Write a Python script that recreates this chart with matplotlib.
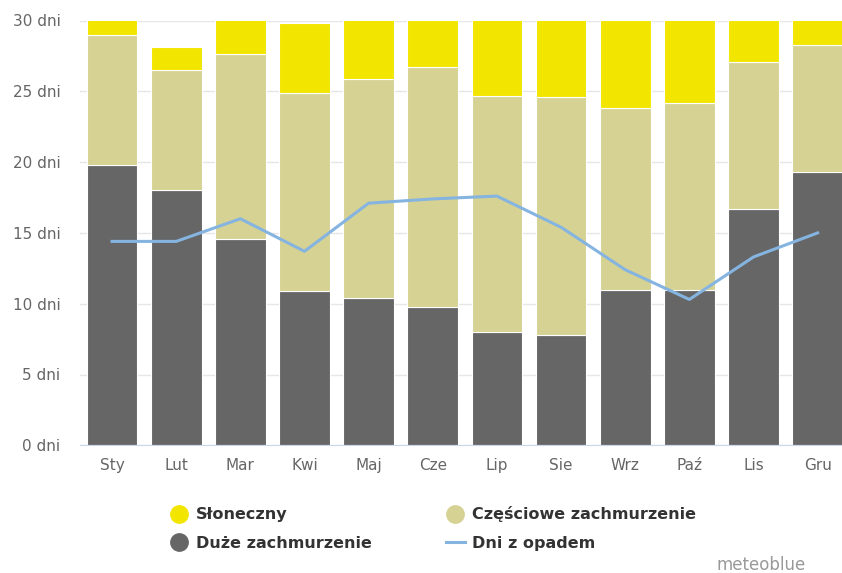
import matplotlib.pyplot as plt
from matplotlib.lines import Line2D
import numpy as np

months = ['Sty', 'Lut', 'Mar', 'Kwi', 'Maj', 'Cze', 'Lip', 'Sie', 'Wrz', 'Paź', 'Lis', 'Gru']
# days per category
overcast = [19.8, 18.0, 14.6, 10.9, 10.4, 9.8, 8.0, 7.8, 11.0, 11.0, 16.7, 19.3]
partly_top = [29.0, 26.5, 27.6, 24.9, 25.9, 26.7, 24.7, 24.6, 23.8, 24.2, 27.1, 28.3]
totals = [31, 28.1, 31, 29.8, 31, 30, 31, 31, 30, 31, 30, 31]
precip_days = [14.4, 14.4, 16.0, 13.7, 17.1, 17.4, 17.6, 15.4, 12.4, 10.3, 13.3, 15.0]

partly = [p - o for p, o in zip(partly_top, overcast)]
sunny = [t - p for t, p in zip(totals, partly_top)]

c_sun = '#f2e600'
c_part = '#d6d293'
c_over = '#666666'
c_line = '#85b4e0'

fig = plt.figure(figsize=(8.42, 5.73), dpi=100)
ax = fig.add_axes([80 / 842, 1 - 445.3 / 573, 762 / 842, (445.3 - 20.5) / 573])

x = np.arange(len(months))
w = 0.79
ax.bar(x, overcast, w, color=c_over, edgecolor='white', linewidth=0.8, zorder=2)
ax.bar(x, partly, w, bottom=overcast, color=c_part, edgecolor='white', linewidth=0.8, zorder=2)
ax.bar(x, sunny, w, bottom=partly_top, color=c_sun, edgecolor='white', linewidth=0.8, zorder=2)
ax.plot(x, precip_days, color=c_line, lw=2.2, zorder=3)

ax.set_ylim(0, 30)
ax.set_xlim(-0.5, 11.38)
ax.set_yticks(range(0, 31, 5))
ax.set_yticklabels([f'{v} dni' for v in range(0, 31, 5)])
ax.set_xticks(x)
ax.set_xticklabels(months)
ax.tick_params(axis='y', length=0, pad=14, labelsize=11, labelcolor='#666666')
ax.tick_params(axis='x', length=0, pad=9, labelsize=11, labelcolor='#666666')
ax.grid(axis='y', color='#e6e6e6', lw=1, zorder=0)
for s in ['top', 'right', 'left']:
    ax.spines[s].set_visible(False)
ax.spines['bottom'].set_color('#ccd6eb')
ax.spines['bottom'].set_zorder(4)

handles = [
    Line2D([], [], marker='o', ls='', ms=12.5, color=c_sun),
    Line2D([], [], marker='o', ls='', ms=12.5, color=c_over),
    Line2D([], [], marker='o', ls='', ms=12.5, color=c_part),
    Line2D([], [], color=c_line, lw=2.2),
]
labels = ['Słoneczny', 'Duże zachmurzenie', 'Częściowe zachmurzenie', 'Dni z opadem']
fig.legend(handles, labels, ncol=2, loc='upper left', bbox_to_anchor=(155 / 842, 1 - 492 / 573),
           frameon=False, handlelength=1.2, handletextpad=0.45, columnspacing=4.65,
           labelspacing=0.85, prop={'size': 11.5, 'weight': 'semibold'}, labelcolor='#333333')

fig.text(806 / 842, 1 - 570 / 573, 'meteoblue', ha='right', va='baseline', fontsize=12, color='#999999')

fig.savefig('out.png', dpi=100)
